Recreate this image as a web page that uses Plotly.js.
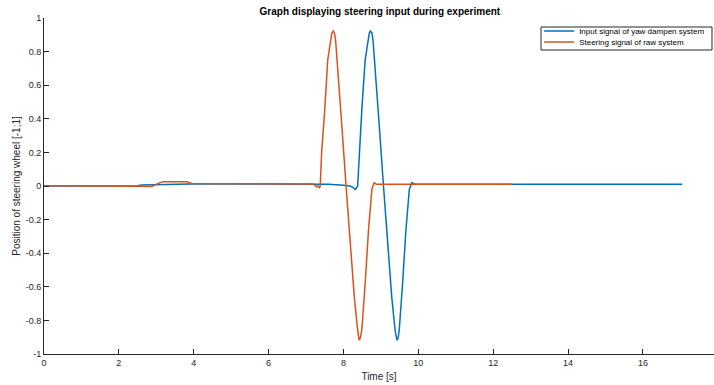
<!DOCTYPE html>
<html>
<head>
<meta charset="utf-8">
<script src="https://cdn.plot.ly/plotly-3.0.1.min.js"></script>
<style>html,body{margin:0;padding:0;background:#fff;}#chart{width:714px;height:385px;}</style>
</head>
<body>
<div id="chart"></div>
<script>
// Input signal of yaw dampen system (blue)
const yawTime = [0, 1.0, 2.0, 2.5, 2.6, 3.0, 3.3, 3.6, 3.8, 3.9, 5.0, 6.5, 7.3, 7.6, 8.0, 8.18, 8.26, 8.32, 8.38, 8.43, 8.49, 8.58, 8.65, 8.69, 8.72, 8.76, 8.79, 8.87, 8.96, 9.07, 9.18, 9.29, 9.38, 9.41, 9.43, 9.46, 9.49, 9.58, 9.67, 9.76, 9.83, 9.9, 12.0, 15.0, 17.05];
const yawValue = [0.0, 0.0, 0.0, 0.002, 0.006, 0.008, 0.01, 0.01, 0.01, 0.012, 0.012, 0.012, 0.012, 0.01, 0.005, 0.0, -0.01, -0.02, 0.0, 0.21, 0.45, 0.75, 0.87, 0.91, 0.923, 0.91, 0.87, 0.65, 0.35, 0.0, -0.34, -0.66, -0.86, -0.905, -0.917, -0.905, -0.86, -0.58, -0.26, -0.02, 0.02, 0.01, 0.01, 0.01, 0.01];

// Steering signal of raw system (orange)
const rawTime = [0, 1.0, 2.0, 2.6, 2.88, 3.0, 3.1, 3.19, 3.5, 3.81, 3.95, 5.0, 6.5, 7.2, 7.28, 7.32, 7.36, 7.38, 7.42, 7.5, 7.58, 7.65, 7.69, 7.73, 7.76, 7.79, 7.87, 7.96, 8.07, 8.18, 8.29, 8.38, 8.4, 8.42, 8.45, 8.49, 8.58, 8.67, 8.76, 8.82, 8.88, 10.0, 12.5];
const rawValue = [0.002, 0.002, 0.0, -0.002, -0.003, 0.01, 0.02, 0.025, 0.025, 0.025, 0.015, 0.015, 0.015, 0.012, -0.005, 0.0, -0.01, 0.0, 0.21, 0.45, 0.75, 0.87, 0.91, 0.923, 0.91, 0.87, 0.65, 0.35, 0.0, -0.34, -0.66, -0.86, -0.905, -0.917, -0.905, -0.86, -0.58, -0.26, -0.02, 0.02, 0.01, 0.01, 0.01];

const xTicks = [0, 2, 4, 6, 8, 10, 12, 14, 16];
const yTicks = [-1, -0.8, -0.6, -0.4, -0.2, 0, 0.2, 0.4, 0.6, 0.8, 1];
const yTickText = ['-1', '-0.8', '-0.6', '-0.4', '-0.2', '0', '0.2', '0.4', '0.6', '0.8', '1'];

const font = 'Liberation Sans, Arial, sans-serif';
const traces = [
  {x: yawTime, y: yawValue, type: 'scatter', mode: 'lines', name: 'Input signal of yaw dampen system',
   line: {color: '#0072BD', width: 1.5}, legend: 'legend'},
  {x: rawTime, y: rawValue, type: 'scatter', mode: 'lines', name: 'Steering signal of raw system',
   line: {color: '#D95319', width: 1.5}, legend: 'legend2'}
];
const axisCommon = {
  showgrid: false, zeroline: false, showline: true, linecolor: '#262626', linewidth: 1,
  ticks: 'inside', ticklen: 5, tickcolor: '#262626', tickwidth: 1,
  tickfont: {family: font, size: 9, color: '#262626'}
};
const legendCommon = {xanchor: 'left', yanchor: 'top', bgcolor: 'rgba(0,0,0,0)', borderwidth: 0,
  font: {family: font, size: 8, color: '#000'}, tracegroupgap: 0};
const layout = {
  width: 714, height: 385,
  margin: {l: 44, r: 0, t: 18, b: 31},
  paper_bgcolor: '#fff', plot_bgcolor: '#fff',
  font: {family: font, color: '#262626'},
  title: {text: '<b>Graph displaying steering input during experiment</b>', font: {family: font, size: 10, color: '#000'},
          x: 0.532, xanchor: 'center', y: 0.97, yanchor: 'middle'},
  xaxis: Object.assign({}, axisCommon, {range: [0, 17.9], tickvals: xTicks, ticktext: xTicks.map(String),
    title: {text: 'Time [s]', font: {family: font, size: 10, color: '#262626'}, standoff: 6}}),
  yaxis: Object.assign({}, axisCommon, {range: [-1, 1], tickvals: yTicks, ticktext: yTickText,
    title: {text: 'Position of steering wheel [-1;1]', font: {family: font, size: 10, color: '#262626'}, standoff: 3}}),
  showlegend: true,
  legend: Object.assign({}, legendCommon, {x: 0.739, y: 1.0045}),
  legend2: Object.assign({}, legendCommon, {x: 0.739, y: 0.9717}),
  shapes: [{type: 'rect', xref: 'paper', yref: 'paper', x0: 0.7418, x1: 0.997, y0: 0.9048, y1: 0.9732,
            line: {color: '#262626', width: 1}, fillcolor: '#fff', layer: 'above'}]
};
Plotly.newPlot('chart', traces, layout, {displayModeBar: false, staticPlot: true});
</script>
</body>
</html>
